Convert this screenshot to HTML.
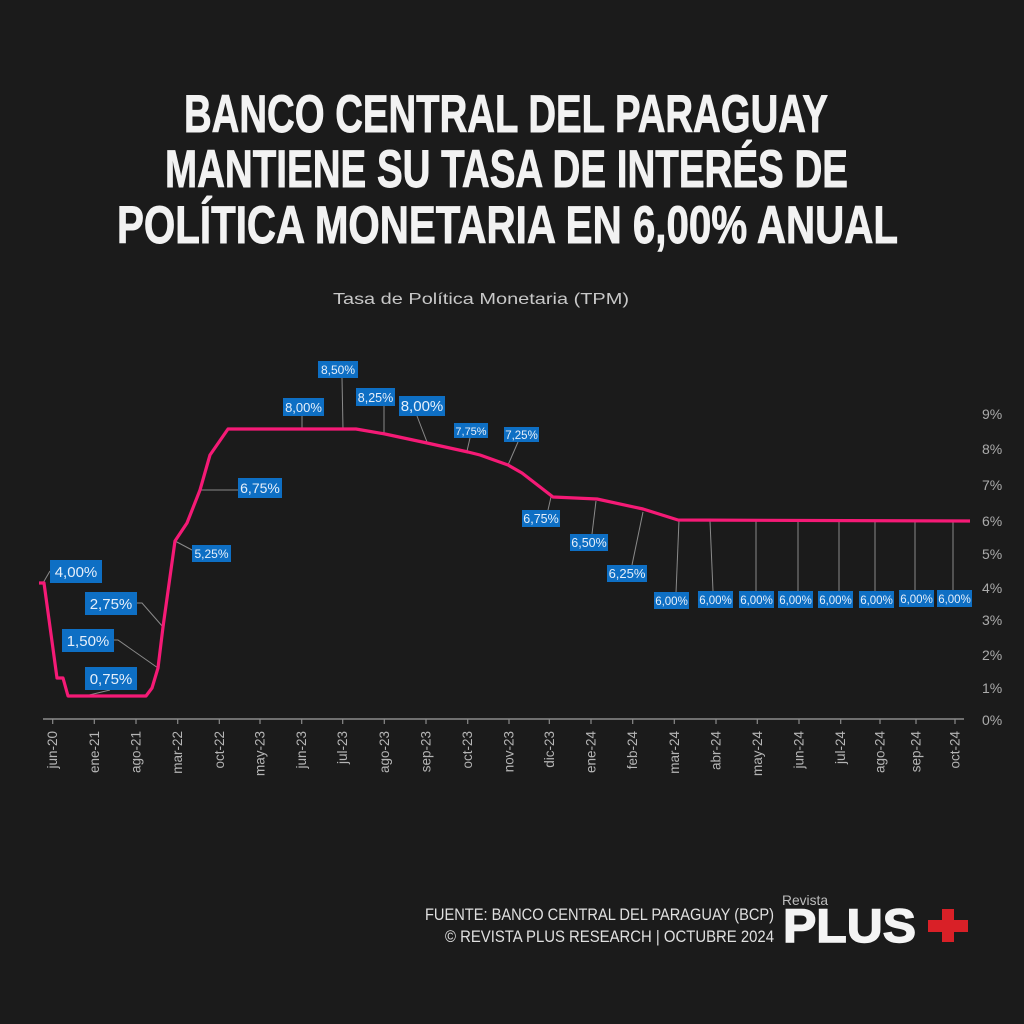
<!DOCTYPE html>
<html><head><meta charset="utf-8"><style>
html,body{margin:0;padding:0;background:#1b1b1b;}
svg{display:block;}
</style></head><body>
<svg width="1024" height="1024" viewBox="0 0 1024 1024" xmlns="http://www.w3.org/2000/svg" font-family="'Liberation Sans', sans-serif">
<rect width="1024" height="1024" fill="#1b1b1b"/>
<!-- Title -->
<g fill="#f2f2f2" stroke="#f2f2f2" stroke-width="0.9" font-weight="bold" font-size="53">
<text x="184" y="132" textLength="644" lengthAdjust="spacingAndGlyphs">BANCO CENTRAL DEL PARAGUAY</text>
<text x="165" y="187" textLength="683" lengthAdjust="spacingAndGlyphs">MANTIENE SU TASA DE INTERÉS DE</text>
<text x="117" y="243" textLength="781" lengthAdjust="spacingAndGlyphs">POLÍTICA MONETARIA EN 6,00% ANUAL</text>
</g>
<text x="333" y="304" font-size="16" fill="#c8c8c8" textLength="296" lengthAdjust="spacingAndGlyphs">Tasa de Política Monetaria (TPM)</text>

<!-- Y axis labels -->
<g fill="#ababab" font-size="14">
<text x="982" y="725">0%</text>
<text x="982" y="693">1%</text>
<text x="982" y="660">2%</text>
<text x="982" y="625">3%</text>
<text x="982" y="593">4%</text>
<text x="982" y="559">5%</text>
<text x="982" y="526">6%</text>
<text x="982" y="490">7%</text>
<text x="982" y="454">8%</text>
<text x="982" y="419">9%</text>
</g>

<!-- X axis -->
<line x1="43" y1="719" x2="964" y2="719" stroke="#8c8c8c" stroke-width="1.5"/>
<g stroke="#8c8c8c" stroke-width="1.2">
<line x1="52.7" y1="719" x2="52.7" y2="724"/><line x1="94.3" y1="719" x2="94.3" y2="724"/><line x1="136" y1="719" x2="136" y2="724"/><line x1="177.7" y1="719" x2="177.7" y2="724"/><line x1="219.3" y1="719" x2="219.3" y2="724"/><line x1="260" y1="719" x2="260" y2="724"/><line x1="301.7" y1="719" x2="301.7" y2="724"/><line x1="342.7" y1="719" x2="342.7" y2="724"/><line x1="384.3" y1="719" x2="384.3" y2="724"/><line x1="426" y1="719" x2="426" y2="724"/><line x1="467.7" y1="719" x2="467.7" y2="724"/><line x1="509" y1="719" x2="509" y2="724"/><line x1="549.3" y1="719" x2="549.3" y2="724"/><line x1="591" y1="719" x2="591" y2="724"/><line x1="632.7" y1="719" x2="632.7" y2="724"/><line x1="674.3" y1="719" x2="674.3" y2="724"/><line x1="716" y1="719" x2="716" y2="724"/><line x1="757.3" y1="719" x2="757.3" y2="724"/><line x1="799" y1="719" x2="799" y2="724"/><line x1="840.7" y1="719" x2="840.7" y2="724"/><line x1="880" y1="719" x2="880" y2="724"/><line x1="916" y1="719" x2="916" y2="724"/><line x1="955" y1="719" x2="955" y2="724"/>
</g>
<g fill="#b5b5b5" font-size="13.5" text-anchor="end">
<text transform="translate(57.2,731) rotate(-90)">jun-20</text>
<text transform="translate(98.8,731) rotate(-90)">ene-21</text>
<text transform="translate(140.5,731) rotate(-90)">ago-21</text>
<text transform="translate(182.2,731) rotate(-90)">mar-22</text>
<text transform="translate(223.8,731) rotate(-90)">oct-22</text>
<text transform="translate(264.5,731) rotate(-90)">may-23</text>
<text transform="translate(306.2,731) rotate(-90)">jun-23</text>
<text transform="translate(347.2,731) rotate(-90)">jul-23</text>
<text transform="translate(388.8,731) rotate(-90)">ago-23</text>
<text transform="translate(430.5,731) rotate(-90)">sep-23</text>
<text transform="translate(472.2,731) rotate(-90)">oct-23</text>
<text transform="translate(513.5,731) rotate(-90)">nov-23</text>
<text transform="translate(553.8,731) rotate(-90)">dic-23</text>
<text transform="translate(595.5,731) rotate(-90)">ene-24</text>
<text transform="translate(637.2,731) rotate(-90)">feb-24</text>
<text transform="translate(678.8,731) rotate(-90)">mar-24</text>
<text transform="translate(720.5,731) rotate(-90)">abr-24</text>
<text transform="translate(761.8,731) rotate(-90)">may-24</text>
<text transform="translate(803.5,731) rotate(-90)">jun-24</text>
<text transform="translate(845.2,731) rotate(-90)">jul-24</text>
<text transform="translate(884.5,731) rotate(-90)">ago-24</text>
<text transform="translate(920.5,731) rotate(-90)">sep-24</text>
<text transform="translate(959.5,731) rotate(-90)">oct-24</text>
</g>

<!-- Leaders -->
<g stroke="#8a8a8a" stroke-width="1" fill="none">
<polyline points="43,583 50,571"/>
<polyline points="137,603 142,603 163,627"/>
<polyline points="114,640 118,640 158,668"/>
<polyline points="110,690 85,696"/>
<polyline points="175,541 192,550"/>
<polyline points="200,490 238,490"/>
<polyline points="302,416 302,429"/>
<polyline points="342,378 343,429"/>
<polyline points="384,406 384,433"/>
<polyline points="417,416 427,442"/>
<polyline points="470,438 467,451"/>
<polyline points="518,442 508,465"/>
<polyline points="548,510 551,497"/>
<polyline points="592,534 596,501"/>
<polyline points="632,565 643,512"/>
<polyline points="676,593 679,520"/>
<polyline points="713,591 710,521"/>
<polyline points="756,591 756,521"/>
<polyline points="798,591 798,521"/>
<polyline points="839,591 839,521"/>
<polyline points="875,591 875,521"/>
<polyline points="915,590 915,521"/>
<polyline points="953,590 953,521"/>
</g>

<!-- Series line -->
<polyline fill="none" stroke="#f51a76" stroke-width="3.2" stroke-linejoin="round" points="39,583 44,583 57,678 63,678 68,696 146,696 152,688 158,668 163,627 175,541 187,523 200,490 210,455 228,429 356,429 385,434 427,443 468,452 480,455 508,465 522,473 553,497 597,499 643,509 678,520 970,521"/>

<!-- Label boxes -->
<g fill="#0e6fc4">
<rect x="50" y="560" width="52" height="23"/>
<rect x="85" y="592" width="52" height="23"/>
<rect x="62" y="629" width="52" height="23"/>
<rect x="85" y="667" width="52" height="23"/>
<rect x="192" y="545" width="39" height="17"/>
<rect x="238" y="478" width="44" height="20"/>
<rect x="283" y="398" width="41" height="18"/>
<rect x="318" y="361" width="40" height="17"/>
<rect x="356" y="388" width="39" height="18"/>
<rect x="399" y="396" width="46" height="20"/>
<rect x="454" y="423" width="34" height="15"/>
<rect x="504" y="427" width="35" height="15"/>
<rect x="522" y="510" width="38" height="17"/>
<rect x="570" y="534" width="38" height="17"/>
<rect x="607" y="565" width="40" height="17"/>
<rect x="654" y="592" width="35" height="17"/>
<rect x="698" y="591" width="35" height="17"/>
<rect x="739" y="591" width="35" height="17"/>
<rect x="778" y="591" width="35" height="17"/>
<rect x="818" y="591" width="35" height="17"/>
<rect x="859" y="591" width="35" height="17"/>
<rect x="899" y="590" width="35" height="17"/>
<rect x="937" y="590" width="35" height="17"/>
</g>
<g fill="#e6effa" text-anchor="middle">
<text x="76" y="577" font-size="15">4,00%</text>
<text x="111" y="609" font-size="15">2,75%</text>
<text x="88" y="646" font-size="15">1,50%</text>
<text x="111" y="684" font-size="15">0,75%</text>
<text x="211.5" y="558" font-size="12">5,25%</text>
<text x="260" y="493" font-size="14">6,75%</text>
<text x="303.5" y="412" font-size="13">8,00%</text>
<text x="338" y="374" font-size="12">8,50%</text>
<text x="375.5" y="402" font-size="12.5">8,25%</text>
<text x="422" y="411" font-size="15">8,00%</text>
<text x="471" y="435" font-size="11">7,75%</text>
<text x="521.5" y="439" font-size="11.5">7,25%</text>
<text x="541" y="523" font-size="12.5">6,75%</text>
<text x="589" y="547" font-size="12.5">6,50%</text>
<text x="627" y="578" font-size="13">6,25%</text>
<text x="671.5" y="605" font-size="11.5">6,00%</text>
<text x="715.5" y="604" font-size="11.5">6,00%</text>
<text x="756.5" y="604" font-size="11.5">6,00%</text>
<text x="795.5" y="604" font-size="11.5">6,00%</text>
<text x="835.5" y="604" font-size="11.5">6,00%</text>
<text x="876.5" y="604" font-size="11.5">6,00%</text>
<text x="916.5" y="603" font-size="11.5">6,00%</text>
<text x="954.5" y="603" font-size="11.5">6,00%</text>
</g>

<!-- Footer -->
<g fill="#e0e0e0" font-size="17">
<text x="774" y="920" text-anchor="end" textLength="349" lengthAdjust="spacingAndGlyphs">FUENTE: BANCO CENTRAL DEL PARAGUAY (BCP)</text>
<text x="774" y="942" text-anchor="end" textLength="329" lengthAdjust="spacingAndGlyphs">© REVISTA PLUS RESEARCH | OCTUBRE 2024</text>
</g>
<text x="782" y="905" font-size="14" fill="#bdbdbd" textLength="46" lengthAdjust="spacingAndGlyphs">Revista</text>
<text x="783" y="942" font-size="47" font-weight="bold" fill="#f4f4f4" stroke="#f4f4f4" stroke-width="1.4" textLength="133" lengthAdjust="spacingAndGlyphs">PLUS</text>
<rect x="928" y="920" width="40" height="12" fill="#d92027"/>
<rect x="942" y="909" width="12" height="33" fill="#d92027"/>
</svg>
</body></html>
